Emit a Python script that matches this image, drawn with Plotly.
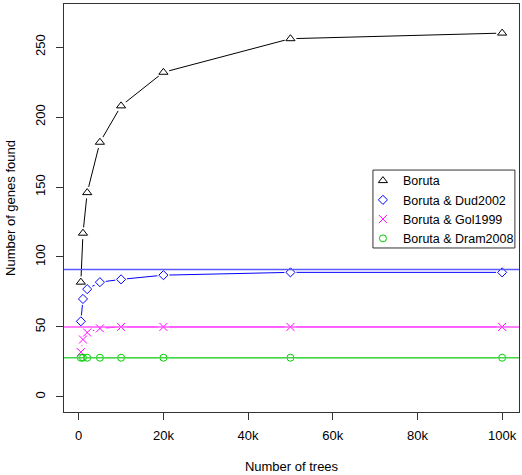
import plotly.graph_objects as go

trees = [500, 1000, 2000, 5000, 10000, 20000, 50000, 100000]
boruta = [82, 117, 146, 182, 208, 232, 256, 260]
dud2002 = [54, 70, 77, 82, 84, 87, 89, 89]
gol1999 = [32, 41, 46, 49, 50, 50, 50, 50]
dram2008 = [28, 28, 28, 28, 28, 28, 28, 28]
ref_lines = {"Dud2002": 91, "Gol1999": 50, "Dram2008": 28}

names = ["Boruta", "Boruta & Dud2002", "Boruta & Gol1999", "Boruta & Dram2008"]
series = [boruta, dud2002, gol1999, dram2008]
colors = ["#000000", "#0000FF", "#FF00FF", "#00CD00"]
symbols = ["triangle-up-open", "diamond-open", "x-thin-open", "circle-open"]
sizes = [8, 7, 8, 7]
hline_colors = {"Dud2002": "#5A5AFF", "Gol1999": "#FF55FF", "Dram2008": "#44D544"}

FONT = "Liberation Sans, Arial, Helvetica, sans-serif"
fig = go.Figure()

# lines
for ys, c in zip(series, colors):
    fig.add_trace(go.Scatter(x=trees, y=ys, mode="lines", line=dict(color=c, width=1),
                             showlegend=False, hoverinfo="skip"))
# white masks to emulate R type="b" gaps
for ys in series:
    fig.add_trace(go.Scatter(x=trees, y=ys, mode="markers",
                             marker=dict(symbol="circle", size=12, color="white", line=dict(width=0)),
                             showlegend=False, hoverinfo="skip"))
# markers
for ys, c, s, sz, n in zip(series, colors, symbols, sizes, names):
    fig.add_trace(go.Scatter(x=trees, y=ys, mode="markers", name=n,
                             marker=dict(symbol=s, size=sz, color=c, line=dict(color=c, width=1))))

for k, v in ref_lines.items():
    fig.add_hline(y=v, line=dict(color=hline_colors[k], width=1.5), layer="above")

# legend frame
fig.add_shape(type="rect", xref="paper", yref="paper", x0=0.679, x1=0.991, y0=0.402, y1=0.593,
              line=dict(color="#333", width=1), fillcolor="white", layer="below")

fig.update_layout(
    width=522, height=475,
    margin=dict(l=64, r=3, t=4, b=63),
    paper_bgcolor="white", plot_bgcolor="white",
    font=dict(family=FONT, size=13, color="black"),
    legend=dict(x=0.657, y=0.603, xanchor="left", yanchor="top",
                borderwidth=0, bgcolor="rgba(0,0,0,0)",
                font=dict(size=12.5), itemwidth=30, tracegroupgap=0),
)
fig.update_xaxes(range=[-3480, 103980], tickvals=[0, 20000, 40000, 60000, 80000, 100000],
                 ticktext=["0", "20k", "40k", "60k", "80k", "100k"], automargin=False,
                 showgrid=False, zeroline=False, showline=True, linecolor="#333", linewidth=1, mirror=True,
                 ticks="outside", ticklen=7, tickcolor="#333", ticklabelstandoff=4,
                 title=dict(text="Number of trees", standoff=20, font=dict(size=13)))
fig.update_yaxes(range=[-10.8, 280.8], tickvals=[0, 50, 100, 150, 200, 250], automargin=False,
                 showgrid=False, zeroline=False, showline=True, linecolor="#333", linewidth=1, mirror=True,
                 ticks="outside", ticklen=7, tickcolor="#333", tickangle=-90, ticklabelstandoff=6,
                 title=dict(text="Number of genes found", standoff=14, font=dict(size=13)))

fig.write_html("out.html")
